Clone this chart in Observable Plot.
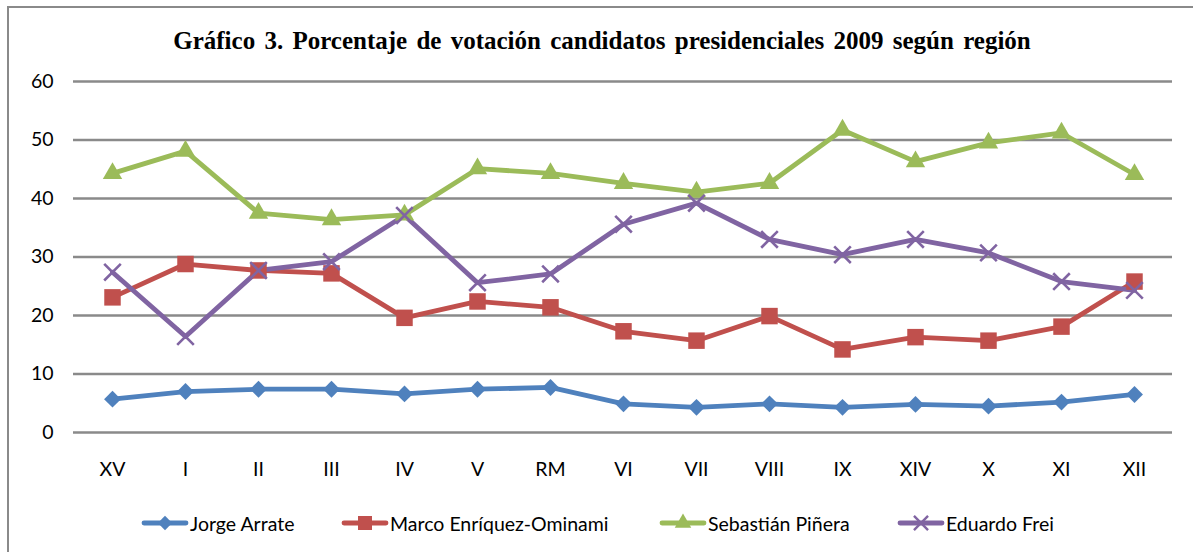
<!DOCTYPE html>
<html>
<head>
<meta charset="utf-8">
<script src="https://cdn.jsdelivr.net/npm/d3@7"></script>
<script src="https://cdn.jsdelivr.net/npm/@observablehq/plot@0.6"></script>
<style>
  html, body { margin: 0; padding: 0; background: #fff; width: 1193px; height: 552px; overflow: hidden; }
  #frame { position: absolute; left: 7px; top: 6px; width: 1200px; height: 600px; border: 2px solid #8a8a8a; box-sizing: border-box; }
  #title { position: absolute; left: 0; width: 1204px; top: 27px; text-align: center; font-family: "Liberation Serif", serif; font-weight: bold; font-size: 25px; word-spacing: 3px; color: #000; }
  #chart { position: absolute; left: 0; top: 0; }
  #legend { position: absolute; top: 510px; left: 0; width: 1193px; height: 26px; font-family: Lato, sans-serif; font-size: 19.5px; color: #000; }
  .item { position: absolute; top: 0; display: flex; align-items: center; height: 26px; }
  .item svg { margin-right: 1px; }
</style>
</head>
<body>
<div id="frame"></div>
<div id="chart"></div>
<div id="title">Gráfico 3. Porcentaje de votación candidatos presidenciales 2009 según región</div>
<div id="legend"></div>
<script>
const regions = ["XV", "I", "II", "III", "IV", "V", "RM", "VI", "VII", "VIII", "IX", "XIV", "X", "XI", "XII"];
const candidates = ["Jorge Arrate", "Marco Enríquez-Ominami", "Sebastián Piñera", "Eduardo Frei"];
const arrate  = [5.7, 7.0, 7.4, 7.4, 6.6, 7.4, 7.7, 4.9, 4.3, 4.9, 4.3, 4.8, 4.5, 5.2, 6.5];
const meo     = [23.1, 28.8, 27.7, 27.2, 19.6, 22.4, 21.4, 17.3, 15.7, 19.9, 14.2, 16.3, 15.7, 18.1, 25.8];
const pinera  = [44.3, 48.1, 37.5, 36.4, 37.2, 45.1, 44.3, 42.6, 41.1, 42.6, 51.7, 46.3, 49.5, 51.2, 44.1];
const frei    = [27.4, 16.4, 27.7, 29.2, 37.1, 25.6, 27.1, 35.6, 39.2, 33.0, 30.4, 33.0, 30.7, 25.8, 24.3];
const yTicks  = [0, 10, 20, 30, 40, 50, 60];
const colors  = ["#4F81BD", "#C0504D", "#9BBB59", "#8064A2"];
const symbols = ["diamond2", "square", "triangle", "times"];

const seriesValues = [arrate, meo, pinera, frei];
const data = [];
candidates.forEach((c, i) => {
  regions.forEach((r, j) => data.push({candidate: c, region: r, value: seriesValues[i][j]}));
});

const radius = {diamond2: 7.6, square: 9.3, triangle: 7.2, times: 7.6};

const marks = [
  Plot.ruleY(yTicks, {stroke: "#8a8a8a", strokeWidth: 2.4})
];
candidates.forEach((c, i) => {
  const d = data.filter(e => e.candidate === c);
  marks.push(Plot.lineY(d, {x: "region", y: "value", stroke: colors[i], strokeWidth: 4.8}));
});
candidates.forEach((c, i) => {
  const d = data.filter(e => e.candidate === c);
  if (symbols[i] === "times") {
    marks.push(Plot.dot(d, {x: "region", y: "value", symbol: "times", r: radius.times, stroke: colors[i], strokeWidth: 2.6, fill: "none"}));
  } else {
    marks.push(Plot.dot(d, {x: "region", y: "value", symbol: symbols[i], r: radius[symbols[i]], fill: colors[i], stroke: "none"}));
  }
});

const chart = Plot.plot({
  width: 1193,
  height: 552,
  marginLeft: 73,
  marginRight: 21,
  marginTop: 81,
  marginBottom: 120,
  style: {fontFamily: "Lato, sans-serif", fontSize: "19.5px", color: "#000", background: "transparent", overflow: "visible"},
  x: {type: "point", domain: regions, padding: 0.5, label: null, tickSize: 0, tickPadding: 30},
  y: {domain: [0, 60], ticks: yTicks, label: null, tickSize: 0, tickPadding: 20},
  marks
});
document.getElementById("chart").appendChild(chart);

// legend
const legendPos = [141, 341, 659, 897];
const legend = document.getElementById("legend");
candidates.forEach((c, i) => {
  const item = document.createElement("div");
  item.className = "item";
  item.style.left = legendPos[i] + "px";
  const ns = "http://www.w3.org/2000/svg";
  const svg = document.createElementNS(ns, "svg");
  svg.setAttribute("width", 48); svg.setAttribute("height", 26);
  const line = document.createElementNS(ns, "line");
  line.setAttribute("x1", 3); line.setAttribute("x2", 45); line.setAttribute("y1", 13); line.setAttribute("y2", 13);
  line.setAttribute("stroke", colors[i]); line.setAttribute("stroke-width", 4.8); line.setAttribute("stroke-linecap", "round");
  svg.appendChild(line);
  const typ = {diamond2: d3.symbolDiamond2, square: d3.symbolSquare, triangle: d3.symbolTriangle, times: d3.symbolTimes}[symbols[i]];
  const rr = radius[symbols[i]] * 0.85;
  const p = document.createElementNS(ns, "path");
  p.setAttribute("d", d3.symbol(typ, Math.PI * rr * rr)());
  p.setAttribute("transform", "translate(24,13)");
  if (symbols[i] === "times") { p.setAttribute("fill", "none"); p.setAttribute("stroke", colors[i]); p.setAttribute("stroke-width", 2.4); }
  else p.setAttribute("fill", colors[i]);
  svg.appendChild(p);
  item.appendChild(svg);
  const t = document.createElement("span");
  t.textContent = c;
  item.appendChild(t);
  legend.appendChild(item);
});
</script>
</body>
</html>
